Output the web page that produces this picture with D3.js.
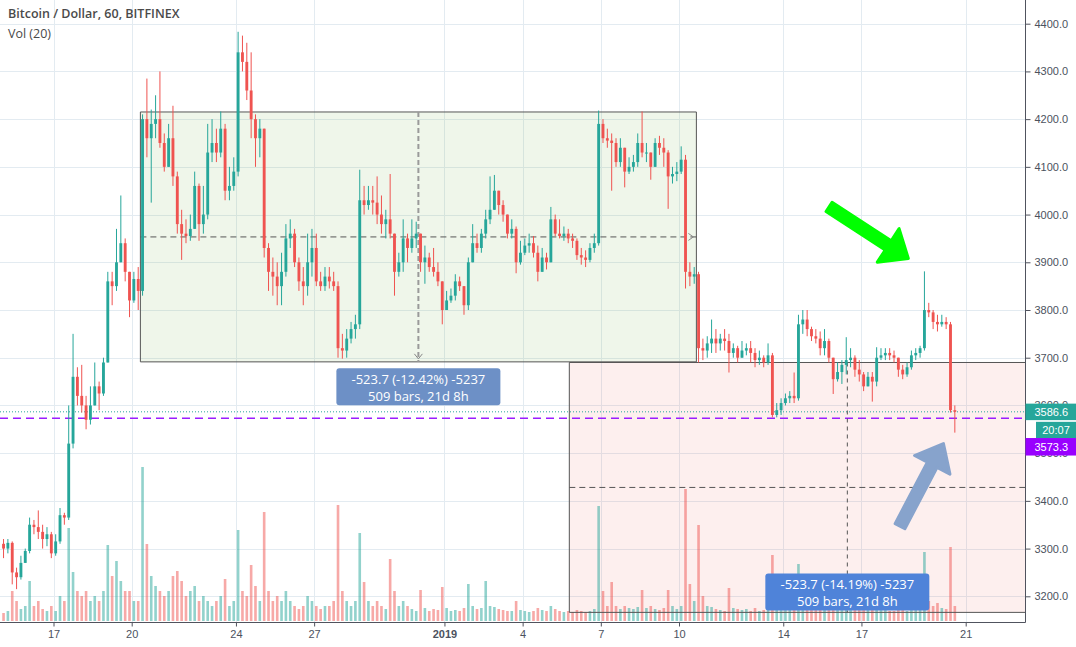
<!DOCTYPE html>
<html><head><meta charset="utf-8">
<script src="https://cdn.jsdelivr.net/npm/d3@7"></script>
<style>body{margin:0;background:#fff}svg{display:block}</style>
</head><body><svg id="c" width="1076" height="647"></svg>
<script>
// ---------------- data ----------------
const title = "Bitcoin / Dollar, 60, BITFINEX";
const volTitle = "Vol (20)";
const seriesStart = Date.UTC(2018, 11, 15, 0); // first bar (4h bars)
const barHours = 4;
const firstOpen = 3310;
const closes = [
3300,3312,3250,3240,3270,3295,3350,3345,3335,3320,
3330,3290,3315,3370,3365,3520,3660,3620,3600,3570,
3600,3640,3625,3690,3860,3850,3900,3940,3880,3820,
3865,3840,4200,4160,4190,4200,4150,4100,4160,4080,
3980,3960,3955,3970,4060,3980,4000,4130,4150,4130,
4180,4050,4060,4090,4340,4320,4260,4200,4160,4180,
3930,3880,3870,3850,3880,3950,3960,3900,3860,3850,
3900,3930,3860,3850,3870,3860,3850,3720,3715,3740,
3760,3770,4030,4020,4030,4025,4000,3980,3990,3960,
3880,3900,3950,3930,3950,3960,3900,3910,3890,3880,
3860,3800,3820,3830,3860,3850,3810,3900,3940,3930,
3960,3990,4010,4050,4020,4000,3960,3970,3900,3920,
3935,3940,3920,3880,3910,3900,3990,3960,3955,3960,
3950,3945,3915,3910,3905,3930,3940,4190,4160,4155,
4150,4110,4140,4090,4100,4110,4150,4130,4130,4100,
4150,4140,4130,4080,4085,4090,4115,3880,3870,3875,
3720,3715,3730,3740,3730,3740,3735,3710,3720,3700,
3715,3720,3710,3695,3700,3690,3705,3580,3590,3605,
3615,3620,3615,3770,3780,3760,3745,3740,3720,3735,
3700,3655,3670,3685,3695,3700,3675,3665,3640,3660,
3650,3700,3705,3710,3705,3700,3675,3665,3680,3705,
3710,3720,3800,3795,3775,3770,3775,3770,3590,3586.6];
const highs = [
3320,3320,3315,3260,3285,3300,3365,3360,3380,3350,
3345,3335,3330,3385,3375,3600,3750,3680,3685,3620,
3640,3690,3650,3700,3880,3880,3970,4040,3950,3880,
3880,3890,4210,4285,4220,4250,4300,4170,4190,4228,
4090,4010,3990,4000,4090,4065,4060,4190,4200,4180,
4216,4190,4100,4120,4383,4375,4360,4340,4210,4200,
4180,3940,3910,3900,3920,3980,3990,3970,3910,3890,
3960,3970,3960,3880,3890,3890,3880,3860,3750,3760,
3775,3790,4094,4060,4060,4060,4080,4040,4010,4085,
3960,3920,3990,3960,3990,3985,3960,3935,3920,3930,
3900,3860,3840,3845,3875,3870,3850,3910,3980,3960,
3970,4010,4080,4083,4050,4030,4000,3990,3975,3945,
3950,3960,3955,3935,3930,3920,4016,4000,3990,3975,
3970,3960,3950,3930,3925,3940,3960,4218,4200,4180,
4170,4160,4160,4140,4120,4125,4170,4216,4150,4130,
4160,4165,4160,4135,4100,4110,4143,4125,3900,3890,
3880,3740,3745,3780,3760,3750,3760,3750,3730,3725,
3735,3730,3735,3720,3715,3705,3730,3710,3605,3615,
3625,3630,3669,3790,3800,3800,3765,3760,3755,3760,
3740,3700,3690,3695,3743,3720,3705,3695,3670,3670,
3670,3722,3720,3720,3720,3715,3700,3685,3690,3715,
3720,3725,3881,3815,3800,3790,3790,3785,3775,3600];
const lows = [
3280,3290,3225,3215,3235,3270,3290,3330,3320,3300,
3305,3280,3285,3310,3350,3360,3510,3600,3585,3550,
3560,3600,3590,3620,3690,3810,3840,3900,3860,3785,
3815,3800,3830,4120,4025,4160,4140,4090,4100,4060,
3960,3905,3940,3945,3970,3945,3960,3990,4110,4110,
4120,4030,4030,4050,4080,4300,4240,4160,4100,4120,
3910,3840,3830,3810,3810,3870,3930,3890,3840,3810,
3830,3870,3850,3840,3840,3845,3840,3700,3698,3700,
3730,3740,3760,4000,4010,4000,3980,3960,3950,3950,
3830,3870,3880,3900,3920,3930,3880,3855,3880,3870,
3850,3770,3800,3815,3820,3840,3790,3800,3900,3920,
3920,3950,3980,4010,4000,3985,3950,3950,3877,3895,
3915,3920,3910,3860,3880,3885,3900,3955,3950,3945,
3940,3930,3905,3895,3890,3900,3920,3935,4150,4140,
4050,4100,4100,4057,4085,4090,4100,4120,4110,4073,
4100,4125,4100,4012,4065,4070,4085,3845,3850,3855,
3690,3695,3700,3710,3710,3715,3715,3669,3700,3690,
3700,3705,3690,3680,3685,3680,3685,3575,3575,3580,
3600,3605,3605,3610,3750,3745,3735,3730,3705,3705,
3690,3624,3650,3645,3665,3680,3660,3650,3630,3640,
3608,3640,3695,3695,3695,3690,3660,3655,3660,3675,
3695,3700,3715,3785,3760,3755,3765,3760,3585,3543];
const volumes = [
160,200,600,400,240,300,800,300,400,240,
200,300,200,500,400,1860,980,600,500,600,
400,500,400,600,1520,900,1200,800,600,600,
400,400,3080,1540,900,700,600,500,600,900,
1000,800,500,600,700,400,500,400,300,400,
500,840,300,400,1820,600,500,1120,700,400,
2180,600,400,500,400,600,400,300,240,300,
500,400,300,240,300,300,400,2320,600,400,
300,400,1760,780,400,300,400,300,240,1240,
600,300,400,300,240,200,620,260,200,240,
220,680,260,200,220,200,260,740,300,240,
260,800,300,280,240,220,200,200,400,220,
200,180,200,260,220,200,300,240,200,180,
200,180,220,200,180,200,240,2300,600,300,
780,300,240,300,260,240,280,620,260,300,
240,220,260,620,300,240,300,2640,740,400,
1920,500,300,280,240,220,200,660,260,240,
220,240,200,260,200,220,240,1320,400,300,
240,220,400,1140,400,300,240,220,260,240,
300,500,260,240,400,300,260,220,300,240,
400,360,240,220,200,200,260,220,200,240,
220,260,1380,400,300,360,260,240,1480,300];
const priceTicks = [3200,3300,3400,3500,3600,3700,3800,3900,4000,4100,4200,4300,4400];
const dateTicks = ["2018-12-17","2018-12-20","2018-12-24","2018-12-27","2019-01-01","2019-01-04","2019-01-07","2019-01-10","2019-01-14","2019-01-17","2019-01-21"];
const dateTickLabels = ["17","20","24","27","2019","4","7","10","14","17","21"];
const boldTickLabels = ["2019"];
const lastPrice = 3586.6, markPrice = 3573.3, countdown = "20:07";
// price-range drawings
const range1 = {t0:"2018-12-20T08:00Z", t1:"2019-01-10T16:00Z", p0:4215.0, p1:3691.3,
  line1:"-523.7 (-12.42%) -5237", line2:"509 bars, 21d 8h"};
const range2 = {t0:"2019-01-05T19:00Z", t1:"2019-01-27T03:00Z", p0:3690.0, p1:3166.3,
  line1:"-523.7 (-14.19%) -5237", line2:"509 bars, 21d 8h"};
// arrows (time, price)
const greenArrow = {from:["2019-01-15T18:10Z",4016], to:["2019-01-18T19:10Z",3908]};
const blueArrow  = {from:["2019-01-18T11:30Z",3347], to:["2019-01-20T03:30Z",3520]};

// ---------------- layout ----------------
const plotRight = 1025.5, axisY = 622.5;
const svg = d3.select("#c");
const x = d3.scaleUtc().domain([new Date(Date.UTC(2018,11,17)), new Date(Date.UTC(2019,0,21))]).range([53.5, 965.7]);
const y = d3.scaleLinear().domain([3200, 4400]).range([596.3, 23.7]);
const yv = d3.scaleLinear().domain([0, 4000]).range([621, 421]);
const UP = "#26a69a", DN = "#ef5350";

const bars = closes.map((c, i) => ({
  t: new Date(seriesStart + (i * barHours + barHours / 2) * 3600e3),
  o: i ? closes[i - 1] : firstOpen, h: highs[i], l: lows[i], c, v: volumes[i]
}));
const barW = x(new Date(seriesStart + barHours * 3600e3)) - x(new Date(seriesStart));

svg.append("defs").append("clipPath").attr("id", "plot")
  .append("rect").attr("x", 0).attr("y", 0).attr("width", plotRight).attr("height", axisY);

const grid = svg.append("g").attr("clip-path", "url(#plot)");
const tickDates = dateTicks.map(d => new Date(d + "T00:00Z"));
grid.selectAll("line.v").data(tickDates).join("line")
  .attr("x1", d => Math.round(x(d)) + 0.5).attr("x2", d => Math.round(x(d)) + 0.5)
  .attr("y1", 0).attr("y2", axisY).attr("stroke", "#e3ebf1");
grid.selectAll("line.h").data(priceTicks).join("line")
  .attr("x1", 0).attr("x2", plotRight)
  .attr("y1", d => Math.round(y(d)) + 0.5).attr("y2", d => Math.round(y(d)) + 0.5).attr("stroke", "#e3ebf1");

// range fills
const plot = svg.append("g").attr("clip-path", "url(#plot)");
function rangeRect(r) {
  const x0 = x(new Date(r.t0)), x1 = x(new Date(r.t1));
  return {x0, x1, y0: y(r.p0), y1: y(r.p1), xm: (x0 + x1) / 2, ym: (y(r.p0) + y(r.p1)) / 2};
}
const R1 = rangeRect(range1), R2 = rangeRect(range2);
plot.append("rect").attr("x", R1.x0).attr("y", R1.y0).attr("width", R1.x1 - R1.x0).attr("height", R1.y1 - R1.y0)
  .attr("fill", "rgba(122,180,80,0.12)");
plot.append("rect").attr("x", R2.x0).attr("y", R2.y0).attr("width", R2.x1 - R2.x0).attr("height", R2.y1 - R2.y0)
  .attr("fill", "rgba(236,80,70,0.09)");

// volume
plot.append("g").selectAll("rect").data(bars).join("rect")
  .attr("x", d => x(d.t) - barW * 0.3).attr("width", barW * 0.6)
  .attr("y", d => yv(d.v)).attr("height", d => yv(0) - yv(d.v))
  .attr("fill", d => d.c >= d.o ? "rgba(38,166,154,0.5)" : "rgba(239,83,80,0.5)");

// price lines
plot.append("line").attr("x1", 0).attr("x2", plotRight).attr("y1", y(lastPrice)).attr("y2", y(lastPrice))
  .attr("stroke", UP).attr("stroke-dasharray", "1,2");
plot.append("line").attr("x1", 0).attr("x2", plotRight).attr("y1", y(markPrice)).attr("y2", y(markPrice))
  .attr("stroke", "#9b1dff").attr("stroke-width", 1.5).attr("stroke-dasharray", "8,5");

// range borders & middle lines (below candles)
function borders(R, noRight) {
  const g = plot.append("g").attr("fill", "none").attr("stroke", "#555").attr("stroke-width", 1);
  g.append("line").attr("x1", R.x0).attr("x2", R.x1).attr("y1", R.y0).attr("y2", R.y0);
  g.append("line").attr("x1", R.x0).attr("x2", R.x1).attr("y1", R.y1).attr("y2", R.y1);
  g.append("line").attr("x1", R.x0).attr("x2", R.x0).attr("y1", R.y0).attr("y2", R.y1);
  if (!noRight) g.append("line").attr("x1", R.x1).attr("x2", R.x1).attr("y1", R.y0).attr("y2", R.y1);
  return g;
}
const b1 = borders(R1, false);
b1.append("line").attr("x1", R1.x0).attr("x2", R1.x1).attr("y1", R1.ym).attr("y2", R1.ym).attr("stroke-dasharray", "6,4");
b1.append("path").attr("d", `M${R1.x1-8},${R1.ym-3.5}L${R1.x1-3},${R1.ym}L${R1.x1-8},${R1.ym+3.5}`).attr("stroke", "#888");
b1.append("line").attr("x1", R1.xm).attr("x2", R1.xm).attr("y1", R1.y0).attr("y2", R1.y1)
  .attr("stroke", "#9a9a9a").attr("stroke-width", 2).attr("stroke-dasharray", "5,3");
b1.append("path").attr("d", `M${R1.xm-4},${R1.y1-8}L${R1.xm},${R1.y1-3}L${R1.xm+4},${R1.y1-8}`).attr("stroke", "#888");
const b2 = borders(R2, true);
b2.append("line").attr("x1", R2.x0).attr("x2", plotRight).attr("y1", R2.ym).attr("y2", R2.ym).attr("stroke-dasharray", "6,4");
b2.append("line").attr("x1", R2.xm).attr("x2", R2.xm).attr("y1", R2.y0).attr("y2", R2.y1).attr("stroke-dasharray", "4,4");

// candles
const cg = plot.append("g");
cg.selectAll("line").data(bars).join("line")
  .attr("x1", d => x(d.t)).attr("x2", d => x(d.t))
  .attr("y1", d => y(d.h)).attr("y2", d => y(d.l))
  .attr("stroke", d => d.c >= d.o ? UP : DN).attr("stroke-width", 1);
cg.selectAll("rect").data(bars).join("rect")
  .attr("x", d => x(d.t) - barW * 0.33).attr("width", barW * 0.66)
  .attr("y", d => y(Math.max(d.o, d.c)))
  .attr("height", d => Math.max(1, Math.abs(y(d.o) - y(d.c))))
  .attr("fill", d => d.c >= d.o ? UP : DN);

// range labels
function label(R, r, top, color) {
  const w = 164, h = 37;
  const g = svg.append("g");
  g.append("rect").attr("x", R.xm - w / 2).attr("y", top).attr("width", w).attr("height", h)
    .attr("rx", 3).attr("fill", color);
  g.selectAll("text").data([r.line1, r.line2]).join("text")
    .attr("x", R.xm).attr("y", (d, i) => top + 15.5 + i * 17)
    .attr("text-anchor", "middle").attr("fill", "#fff")
    .attr("font-family", "Open Sans, sans-serif").attr("font-size", 13).text(d => d);
}
label(R1, range1, R1.y1 + 6.5, "#6d90c6");
label(R2, range2, R2.y1 - 39, "#4f83d9");

// arrows
function arrow(a, color) {
  const p0 = [x(new Date(a.from[0])), y(a.from[1])], p1 = [x(new Date(a.to[0])), y(a.to[1])];
  const dx = p1[0] - p0[0], dy = p1[1] - p0[1], L = Math.hypot(dx, dy);
  const ux = dx / L, uy = dy / L, nx = -uy, ny = ux;
  const hl = 24, hw = 20, sw = 5.5;
  const bx = p1[0] - ux * hl, by = p1[1] - uy * hl;
  const pts = [
    [p0[0] + nx * sw, p0[1] + ny * sw], [bx + nx * sw, by + ny * sw], [bx + nx * hw, by + ny * hw],
    p1, [bx - nx * hw, by - ny * hw], [bx - nx * sw, by - ny * sw], [p0[0] - nx * sw, p0[1] - ny * sw]];
  svg.append("path").attr("d", "M" + pts.map(p => p.join(",")).join("L") + "Z")
    .attr("fill", color).attr("stroke", color).attr("stroke-width", 3).attr("stroke-linejoin", "round");
}
arrow(greenArrow, "#00ff00");
arrow(blueArrow, "#87a3cc");

// axes
const axisColor = "#50535e", textColor = "#4c525e";
const ya = svg.append("g").attr("transform", `translate(${plotRight},0)`)
  .call(d3.axisRight(y).tickValues(priceTicks).tickFormat(d3.format(".1f")).tickSize(5).tickPadding(4));
ya.select(".domain").remove();
ya.selectAll("line").attr("stroke", axisColor);
ya.selectAll("text").attr("fill", textColor).attr("font-family", "Liberation Sans, Arial, sans-serif").attr("font-size", 11);
svg.append("line").attr("x1", plotRight).attr("x2", plotRight).attr("y1", 0).attr("y2", axisY).attr("stroke", axisColor);

const xa = svg.append("g").attr("transform", `translate(0,${axisY})`)
  .call(d3.axisBottom(x).tickValues(tickDates).tickFormat((d, i) => dateTickLabels[i]).tickSize(4).tickPadding(4));
xa.select(".domain").remove();
xa.selectAll("line").attr("stroke", axisColor);
xa.selectAll("text").attr("fill", textColor).attr("font-family", "Liberation Sans, Arial, sans-serif").attr("font-size", 11)
  .attr("font-weight", (d, i) => boldTickLabels.includes(dateTickLabels[i]) ? "bold" : "normal");
svg.append("line").attr("x1", 0).attr("x2", plotRight).attr("y1", axisY).attr("y2", axisY).attr("stroke", axisColor);

// price badges (cover the axis labels underneath, as in the reference)
const yl = y(lastPrice);
svg.append("rect").attr("x", plotRight).attr("y", yl - 8.2).attr("width", 1076 - plotRight).attr("height", 16.5).attr("fill", UP);
svg.append("text").attr("x", plotRight + 9).attr("y", yl + 4).attr("fill", "#fff")
  .attr("font-family", "Liberation Sans, Arial, sans-serif").attr("font-size", 11).text(d3.format(".1f")(lastPrice));
const cdTop = yl + 10;
svg.append("rect").attr("x", 1036).attr("y", cdTop).attr("width", 40).attr("height", 16.5).attr("fill", UP);
svg.append("text").attr("x", 1056).attr("y", cdTop + 12).attr("text-anchor", "middle").attr("fill", "#fff")
  .attr("font-family", "Liberation Sans, Arial, sans-serif").attr("font-size", 11).text(countdown);
const mkTop = cdTop + 16.2;
svg.append("rect").attr("x", plotRight).attr("y", mkTop).attr("width", 1076 - plotRight).attr("height", 17.5).attr("fill", "#9900ff");
svg.append("text").attr("x", plotRight + 9).attr("y", mkTop + 12.5).attr("fill", "#fff")
  .attr("font-family", "Liberation Sans, Arial, sans-serif").attr("font-size", 11).text(d3.format(".1f")(markPrice));

// titles
svg.append("text").attr("x", 8).attr("y", 18).attr("fill", "#4a4a4a")
  .attr("font-family", "Open Sans, sans-serif").attr("font-weight", 600).attr("font-size", 12.5).text(title);
svg.append("text").attr("x", 8).attr("y", 38).attr("fill", "#4a4a4a")
  .attr("font-family", "Open Sans, sans-serif").attr("font-size", 12.5).text(volTitle);
</script></body></html>
